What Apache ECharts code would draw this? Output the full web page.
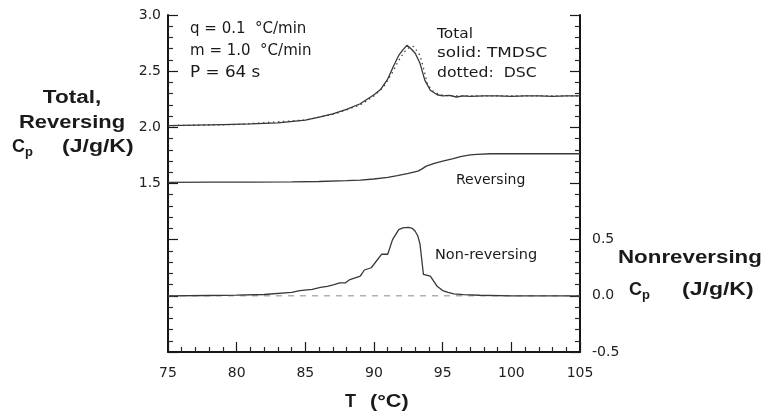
<!DOCTYPE html>
<html>
<head>
<meta charset="utf-8">
<script src="https://cdn.jsdelivr.net/npm/echarts@6/dist/echarts.min.js"></script>
<style>html,body{margin:0;padding:0;background:#fff}#c{width:765px;height:414px}</style>
</head>
<body>
<div id="c"></div>
<script>
// Total Cp (TMDSC, solid) – left axis
var totalT  = [75, 77, 79, 81, 83, 85, 86, 87, 88, 89, 89.5, 90, 90.5, 91, 91.4, 91.8, 92.1, 92.4, 92.7, 93.0, 93.35, 93.7, 94.1, 94.6, 95.0, 95.5, 96, 96.5, 97, 98, 99, 100, 101, 102, 103, 104, 105];
var totalCp = [2.015, 2.02, 2.025, 2.03, 2.04, 2.065, 2.09, 2.12, 2.16, 2.21, 2.25, 2.29, 2.34, 2.43, 2.54, 2.64, 2.69, 2.73, 2.70, 2.66, 2.57, 2.42, 2.33, 2.29, 2.28, 2.285, 2.27, 2.28, 2.275, 2.28, 2.28, 2.275, 2.28, 2.28, 2.275, 2.28, 2.28];
// Total Cp (DSC, dotted) – left axis
var dscT  = [75, 80, 85, 87, 88, 89, 90, 90.7, 91.3, 91.75, 92.2, 92.6, 92.9, 93.35, 93.6, 93.9, 94.3, 94.8, 95.5, 97, 100, 105];
var dscCp = [2.015, 2.025, 2.065, 2.115, 2.155, 2.2, 2.28, 2.36, 2.48, 2.585, 2.67, 2.715, 2.72, 2.64, 2.53, 2.38, 2.32, 2.29, 2.28, 2.28, 2.28, 2.28];
// Reversing Cp – left axis
var revT  = [75, 78, 81, 84, 86, 88, 89, 90, 91, 91.7, 92.5, 93.2, 93.5, 93.8, 94.4, 95, 95.7, 96.3, 97, 97.5, 98.5, 100, 102, 105];
var revCp = [1.51, 1.512, 1.513, 1.515, 1.518, 1.525, 1.53, 1.54, 1.555, 1.57, 1.59, 1.61, 1.63, 1.655, 1.68, 1.70, 1.72, 1.74, 1.755, 1.76, 1.765, 1.765, 1.765, 1.765];
// Non-reversing Cp – right axis
var nrT  = [75, 78, 80, 82, 84, 84.6, 85.5, 86.1, 86.6, 87.1, 87.5, 87.9, 88.25, 89, 89.3, 89.8, 90.55, 91, 91.35, 91.8, 92.1, 92.5, 92.8, 93.0, 93.2, 93.35, 93.6, 94.1, 94.6, 95, 95.4, 95.8, 96.5, 97.7, 100, 105];
var nrCp = [0.0, 0.003, 0.006, 0.012, 0.03, 0.047, 0.058, 0.075, 0.085, 0.1, 0.115, 0.115, 0.145, 0.175, 0.23, 0.25, 0.37, 0.37, 0.50, 0.59, 0.605, 0.61, 0.6, 0.575, 0.53, 0.46, 0.19, 0.175, 0.085, 0.047, 0.03, 0.018, 0.01, 0.005, 0.0, 0.0];
// Zero reference for non-reversing
var zeroT  = [75, 105];
var zeroCp = [0, 0];

function pairs(xs, ys) { return xs.map(function (x, i) { return [x, ys[i]]; }); }

var chart = echarts.init(document.getElementById('c'), null, {renderer: 'canvas'});
var ink = '#161616';
var curve = '#383838';
var tickFont = 'DejaVu Sans';

function txt(s, x, y, opt) {
  opt = opt || {};
  return {
    type: 'text', x: x, y: y, scaleX: opt.sx || 1, scaleY: 1, silent: true,
    style: {
      text: s, x: 0, y: 0,
      font: opt.font || ('15px "DejaVu Sans"'),
      fill: opt.fill || '#1a1a1a',
      textAlign: opt.align || 'left', align: opt.align || 'left',
      textVerticalAlign: 'middle', verticalAlign: 'middle'
    }
  };
}
var bold = 'bold 18px "Liberation Sans"';
var boldSub = 'bold 13px "Liberation Sans"';
var tick = {show: true, inside: true, length: 10, lineStyle: {color: '#1a1a1a', width: 1.2}};
var minor = {show: true, splitNumber: 5, length: 5, lineStyle: {color: '#2a2a2a', width: 1.2}};

var option = {
  animation: false,
  backgroundColor: '#fff',
  grid: {left: 168, right: 185, top: 15, bottom: 62},
  xAxis: {
    type: 'value', min: 75, max: 105, interval: 5,
    axisLine: {show: true, lineStyle: {color: ink, width: 2}},
    axisTick: tick, minorTick: minor,
    splitLine: {show: false}, minorSplitLine: {show: false},
    axisLabel: {color: '#222', fontFamily: tickFont, fontSize: 14, margin: 14}
  },
  yAxis: [{
    type: 'value', position: 'left', min: 0, max: 3, interval: 0.5,
    axisLine: {show: true, lineStyle: {color: ink, width: 2}},
    axisTick: tick, minorTick: minor,
    splitLine: {show: false}, minorSplitLine: {show: false},
    axisLabel: {color: '#222', fontFamily: tickFont, fontSize: 14, margin: 7,
      formatter: function (v) { return v >= 1.5 - 1e-9 ? v.toFixed(1) : ''; }}
  }, {
    type: 'value', position: 'right', min: -0.5, max: 2.5, interval: 0.5,
    axisLine: {show: true, lineStyle: {color: ink, width: 2}},
    axisTick: tick, minorTick: minor,
    splitLine: {show: false}, minorSplitLine: {show: false},
    axisLabel: {color: '#222', fontFamily: tickFont, fontSize: 14, margin: 12,
      formatter: function (v) { return v <= 0.5 + 1e-9 ? v.toFixed(1) : ''; }}
  }],
  series: [
    {name: 'Zero', type: 'line', yAxisIndex: 1, data: pairs(zeroT, zeroCp), symbol: 'none',
      lineStyle: {color: '#8a8a8a', width: 1, type: [6, 6]}, z: 1},
    {name: 'DSC', type: 'line', yAxisIndex: 0, data: pairs(dscT, dscCp), symbol: 'none',
      lineStyle: {color: '#444', width: 1.3, type: [1.5, 3.5]}, z: 2},
    {name: 'Total', type: 'line', yAxisIndex: 0, data: pairs(totalT, totalCp), symbol: 'none',
      lineStyle: {color: curve, width: 1.3}, z: 3},
    {name: 'Reversing', type: 'line', yAxisIndex: 0, data: pairs(revT, revCp), symbol: 'none',
      lineStyle: {color: curve, width: 1.3}, z: 3},
    {name: 'Non-reversing', type: 'line', yAxisIndex: 1, data: pairs(nrT, nrCp), symbol: 'none',
      lineStyle: {color: curve, width: 1.3}, z: 3}
  ],
  graphic: [
    txt('q = 0.1  \u00B0C/min', 190, 29),
    txt('m = 1.0  \u00B0C/min', 190, 51),
    txt('P = 64 s', 190, 73, {sx: 1.12}),
    txt('Total', 437, 34, {font: '14px "DejaVu Sans"', sx: 1.1}),
    txt('solid: TMDSC', 437, 53, {font: '14px "DejaVu Sans"', sx: 1.2}),
    txt('dotted:  DSC', 437, 73, {font: '14px "DejaVu Sans"', sx: 1.12}),
    txt('Reversing', 456, 180, {font: '14px "DejaVu Sans"'}),
    txt('Non-reversing', 435, 255, {font: '14.5px "DejaVu Sans"'}),
    // left axis title
    txt('Total,', 72, 98, {font: bold, align: 'center', sx: 1.25}),
    txt('Reversing', 72, 123, {font: bold, align: 'center', sx: 1.22}),
    txt('C', 12, 147, {font: bold}),
    txt('p', 25, 152, {font: boldSub}),
    txt('(J/g/K)', 62, 147, {font: bold, sx: 1.28}),
    // right axis title
    txt('Nonreversing', 618, 258, {font: bold, sx: 1.24}),
    txt('C', 629, 290, {font: bold}),
    txt('p', 642, 295, {font: boldSub}),
    txt('(J/g/K)', 682, 290, {font: bold, sx: 1.28}),
    // x axis title
    txt('T', 345, 402, {font: bold}),
    txt('(\u00B0C)', 370, 402, {font: bold, sx: 1.2})
  ]
};
chart.setOption(option);
</script>
</body>
</html>
